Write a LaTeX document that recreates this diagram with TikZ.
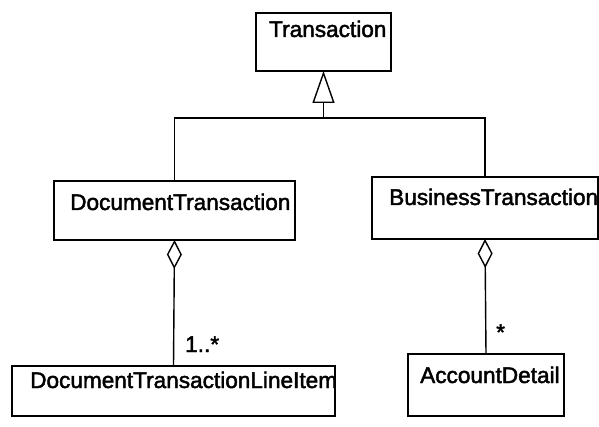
\documentclass[tikz,border=0pt]{standalone}
\usepackage{fontspec}
\newfontfamily\umlfont[FakeBold=2]{Liberation Sans}
\usetikzlibrary{arrows.meta}

\begin{document}
\begin{tikzpicture}[x=1pt, y=-1pt,
    klasse/.style={draw, line width=1.8pt, inner sep=0pt, outer sep=0pt, anchor=north west},
    kltext/.style={anchor=base west, inner sep=0pt, font=\umlfont\fontsize{22.6}{26}\selectfont},
    erbt/.style={line width=1.4pt, -{Triangle[open, length=32pt, width=22pt, line width=1.4pt]}},
    agg/.style={line width=1.4pt, {Diamond[open, length=29pt, width=15pt, line width=1.4pt]}-},
    font=\umlfont\fontsize{22.6}{26}\selectfont]
    %Bildbereich
    \useasboundingbox (0,0) rectangle (599,427);
    % Klassen zeichnen
    \node[klasse, minimum width=135pt, minimum height=58pt] (trans) at (256,13) {};
    \node[klasse, minimum width=241pt, minimum height=59pt] (doc) at (54,181) {};
    \node[klasse, minimum width=226pt, minimum height=62pt] (bus) at (372,177) {};
    \node[klasse, minimum width=323pt, minimum height=50pt] (item) at (12,366) {};
    \node[klasse, minimum width=156pt, minimum height=62pt] (acc) at (408,354) {};
    % Klassen beschriften
    \node[kltext] (transname) at (269,37) {Transaction};
    \node[kltext] (docname) at (70,210) {DocumentTransaction};
    \node[kltext] (busname) at (389,205) {BusinessTransaction};
    \node[kltext] (itemname) at (30,388) {DocumentTransactionLineItem};
    \node[kltext] (accname) at (420,383) {AccountDetail};
    % Vererbung
    \coordinate (knoten) at (trans.south |- 0,118);
    \draw[line width=1.4pt] (doc.north) |- (knoten) -| (bus.north);
    \draw[erbt] (knoten) -- (trans.south);
    % Aggregationen
    \draw[agg] (doc.south) -- (item.north);
    \draw[agg] (bus.south) -- (acc.north);
    % Multiplizitaeten
    \node[kltext] (mult1) at (185,352) {1..*};
    \node[kltext] (mult2) at (496,340) {*};
\end{tikzpicture}
\end{document}
